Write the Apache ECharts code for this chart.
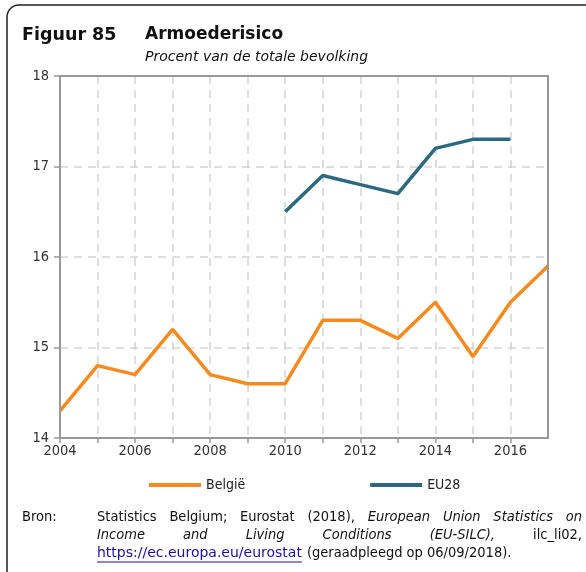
<!DOCTYPE html>
<html><head><meta charset="utf-8">
<script src="https://cdn.jsdelivr.net/npm/echarts@6/dist/echarts.min.js"></script>
<style>html,body{margin:0;padding:0;background:#fff}#c{width:586px;height:572px}</style>
</head><body><div id="c"></div>
<script>
const years = [2004,2005,2006,2007,2008,2009,2010,2011,2012,2013,2014,2015,2016,2017];
const belgie = [14.3,14.8,14.7,15.2,14.7,14.6,14.6,15.3,15.3,15.1,15.5,14.9,15.5,15.9];
const euYears = [2010,2011,2012,2013,2014,2015,2016];
const eu28 = [16.5,16.9,16.8,16.7,17.2,17.3,17.3];
const yTicks = [14,15,16,17,18];
const xTickLabels = [2004,2006,2008,2010,2012,2014,2016];

const FONT = 'DejaVu Sans';
const CF = '"DejaVu Sans Condensed", "DejaVu Sans"';
const chart = echarts.init(document.getElementById('c'), null, {renderer:'canvas'});

const cv = document.createElement('canvas').getContext('2d');
function tw(t, f){ cv.font = f; return cv.measureText(t).width; }

function justified(words, y, x0, x1, fs, italicIdx){
  const els = [];
  const fnt = i => (italicIdx.includes(i)?'italic ':'') + fs + 'px ' + CF;
  const widths = words.map((w,i)=>tw(w, fnt(i)));
  const total = widths.reduce((a,b)=>a+b,0);
  const gap = (x1-x0-total)/(words.length-1);
  let x = x0;
  words.forEach((w,i)=>{
    els.push({type:'text', left:x, top:y, style:{text:w, fill:'#111', font:fnt(i)}});
    x += widths[i] + gap;
  });
  return els;
}

const fs = 14.5;
const line1 = ['Statistics','Belgium;','Eurostat','(2018),','European','Union','Statistics','on'];
const line2 = ['Income','and','Living','Conditions','(EU-SILC),','ilc_li02,'];
const link = 'https://ec.europa.eu/eurostat';
const linkFont = '14px "DejaVu Sans"';
const linkW = tw(link, linkFont);

const gl = 60, gt = 76, gr = 548, gb = 438;

const graphics = [
  {type:'rect', shape:{x:7,y:5,width:640,height:640,r:12}, style:{fill:'none', stroke:'#222', lineWidth:1.5}},
  {type:'rect', z:100, shape:{x:gl,y:gt,width:gr-gl,height:gb-gt}, style:{fill:'none', stroke:'#999', lineWidth:2}},
  {type:'text', left:22, top:26, style:{text:'Figuur 85', font:'bold 17.5px "'+FONT+'"', fill:'#111'}},
  {type:'text', left:145, top:26, style:{text:'Armoederisico', font:'bold 17px "'+FONT+'"', fill:'#111'}},
  {type:'text', left:145, top:50, style:{text:'Procent van de totale bevolking', font:'italic 14px "'+FONT+'"', fill:'#111'}},
  {type:'text', left:22, top:510, style:{text:'Bron:', font:fs+'px '+CF, fill:'#111'}},
  ...justified(line1, 510, 97, 582, fs, [4,5,6,7]),
  ...justified(line2, 528, 97, 582, fs, [0,1,2,3,4]),
  {type:'text', left:97, top:546, style:{text:link, font:linkFont, fill:'#1a0dab'}},
  {type:'line', shape:{x1:97,y1:562,x2:97+linkW,y2:562}, style:{stroke:'#1a0dab', lineWidth:1}},
  {type:'text', left:97+linkW+5, top:546, style:{text:'(geraadpleegd op 06/09/2018).', font:fs+'px '+CF, fill:'#111'}}
];

chart.setOption({
  animation:false,
  textStyle:{fontFamily:CF},
  grid:{left:gl, right:586-gr, top:gt, bottom:572-gb},
  legend:{left:144, top:473, itemWidth:52, itemHeight:4, itemGap:125, icon:'rect',
    textStyle:{fontSize:14, color:'#222', fontFamily:CF}, data:['België','EU28']},
  xAxis:{type:'value', min:2004, max:2017, interval:1,
    axisLine:{show:true, lineStyle:{color:'#999', width:2}},
    axisTick:{show:true, length:5, lineStyle:{color:'#999', width:1.5}},
    axisLabel:{fontSize:14.5, color:'#333', margin:6, showMaxLabel:false, fontFamily:CF,
      formatter:v=> xTickLabels.includes(v)? String(v) : ''},
    splitLine:{show:true, lineStyle:{color:'#d4d4d4', type:[8,6], width:1.5}}},
  yAxis:{type:'value', min:14, max:18, interval:1,
    axisLine:{show:true, lineStyle:{color:'#999', width:2}},
    axisTick:{show:true, length:6, lineStyle:{color:'#999', width:1.5}},
    axisLabel:{fontSize:14.5, color:'#333', margin:11, fontFamily:CF, formatter:v=> yTicks.includes(v)?String(v):''},
    splitLine:{show:true, lineStyle:{color:'#d4d4d4', type:[8,6], width:1.5}}},
  series:[
    {name:'België', type:'line', data:years.map((y,i)=>[y,belgie[i]]), showSymbol:false, symbol:'none',
      lineStyle:{color:'#F58A1F', width:3.5}, itemStyle:{color:'#F58A1F'}},
    {name:'EU28', type:'line', data:euYears.map((y,i)=>[y,eu28[i]]), showSymbol:false, symbol:'none',
      lineStyle:{color:'#2A6A80', width:3.5}, itemStyle:{color:'#2A6A80'}}
  ],
  graphic:graphics
});
</script></body></html>
